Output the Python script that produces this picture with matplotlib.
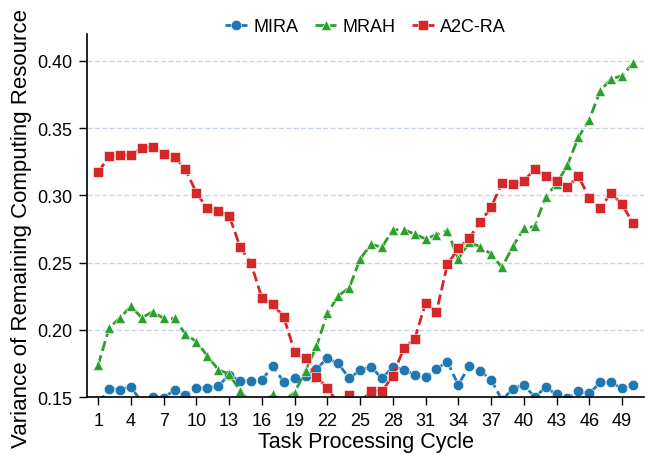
import matplotlib
matplotlib.use("Agg")
import matplotlib.pyplot as plt

plt.rcParams['font.family'] = ['Liberation Sans', 'DejaVu Sans']

cycles = list(range(1, 51))

mira = [0.145, 0.156, 0.1555, 0.1577, 0.146, 0.150, 0.1495, 0.1552, 0.1517, 0.1564,
        0.157, 0.158, 0.1666, 0.1621, 0.1621, 0.1629, 0.1728, 0.1614, 0.1639, 0.1659,
        0.1708, 0.179, 0.175, 0.1641, 0.1699, 0.1726, 0.1639, 0.1723, 0.1704, 0.1666,
        0.1647, 0.1708, 0.1763, 0.159, 0.1733, 0.1696, 0.1629, 0.148, 0.156, 0.1592,
        0.150, 0.1572, 0.152, 0.149, 0.1542, 0.1527, 0.1609, 0.1609, 0.1565, 0.1592]

mrah = [0.1738, 0.2013, 0.209, 0.2175, 0.209, 0.2135, 0.2085, 0.2085, 0.1969, 0.1912,
        0.1808, 0.1704, 0.1671, 0.1547, 0.146, 0.145, 0.152, 0.147, 0.1534, 0.1696,
        0.1877, 0.2122, 0.2254, 0.2311, 0.2527, 0.2638, 0.2614, 0.2745, 0.2745, 0.2713,
        0.2676, 0.2708, 0.2738, 0.2527, 0.2651, 0.2619, 0.2564, 0.2465, 0.2621, 0.2755,
        0.277, 0.299, 0.3085, 0.3226, 0.3432, 0.3563, 0.3779, 0.3866, 0.389, 0.3983]

a2c_ra = [0.3172, 0.329, 0.330, 0.330, 0.3355, 0.336, 0.331, 0.3288, 0.3194, 0.302,
          0.2904, 0.2884, 0.285, 0.262, 0.2495, 0.2239, 0.219, 0.2098, 0.1837, 0.1788,
          0.1647, 0.157, 0.145, 0.1517, 0.146, 0.1547, 0.1542, 0.1659, 0.1862, 0.1932,
          0.2199, 0.2135, 0.2487, 0.2606, 0.2683, 0.280, 0.2911, 0.3092, 0.3085, 0.3105,
          0.3196, 0.3147, 0.3105, 0.3062, 0.3142, 0.2983, 0.2904, 0.302, 0.2933, 0.2795]

fig = plt.figure(figsize=(6.51, 4.56), dpi=100)
ax = fig.add_axes([0.134, 0.127, 0.855, 0.796])

style = dict(linestyle='--', linewidth=2, markersize=7.5, markeredgecolor='white',
             markeredgewidth=0.4)
ax.plot(cycles, mira, marker='o', color='#1f77b4', label='MIRA', **style)
ax.plot(cycles, mrah, marker='^', color='#2ca02c', label='MRAH', **style)
ax.plot(cycles, a2c_ra, marker='s', color='#d62728', label='A2C-RA', **style)

ax.set_xlim(0, 51)
ax.set_ylim(0.15, 0.42)
ax.set_xticks(range(1, 51, 3))
ax.set_yticks([0.15, 0.20, 0.25, 0.30, 0.35, 0.40])
ax.yaxis.set_major_formatter(matplotlib.ticker.FormatStrFormatter('%.2f'))
ax.tick_params(labelsize=13, length=6, width=1, direction='out', colors='black')
ax.tick_params(axis='x', pad=4.5)
ax.tick_params(axis='y', pad=4.5)
ax.grid(axis='y', linestyle='--', color='#c9d6ea', linewidth=1)
ax.set_axisbelow(True)

for side in ['top', 'right']:
    ax.spines[side].set_visible(False)
for side in ['left', 'bottom']:
    ax.spines[side].set_linewidth(1.2)

ax.set_xlabel('Task Processing Cycle', fontsize=15.5, labelpad=2)
ax.set_ylabel('Variance of Remaining Computing Resource', fontsize=16)
ax.yaxis.set_label_coords(-0.099, 0.468)

ax.legend(loc='center', bbox_to_anchor=(0.5, 1.02), ncol=3, frameon=False,
          fontsize=13, handlelength=1.2, columnspacing=0.9, handletextpad=0.35)

fig.savefig('out.png', dpi=100)
